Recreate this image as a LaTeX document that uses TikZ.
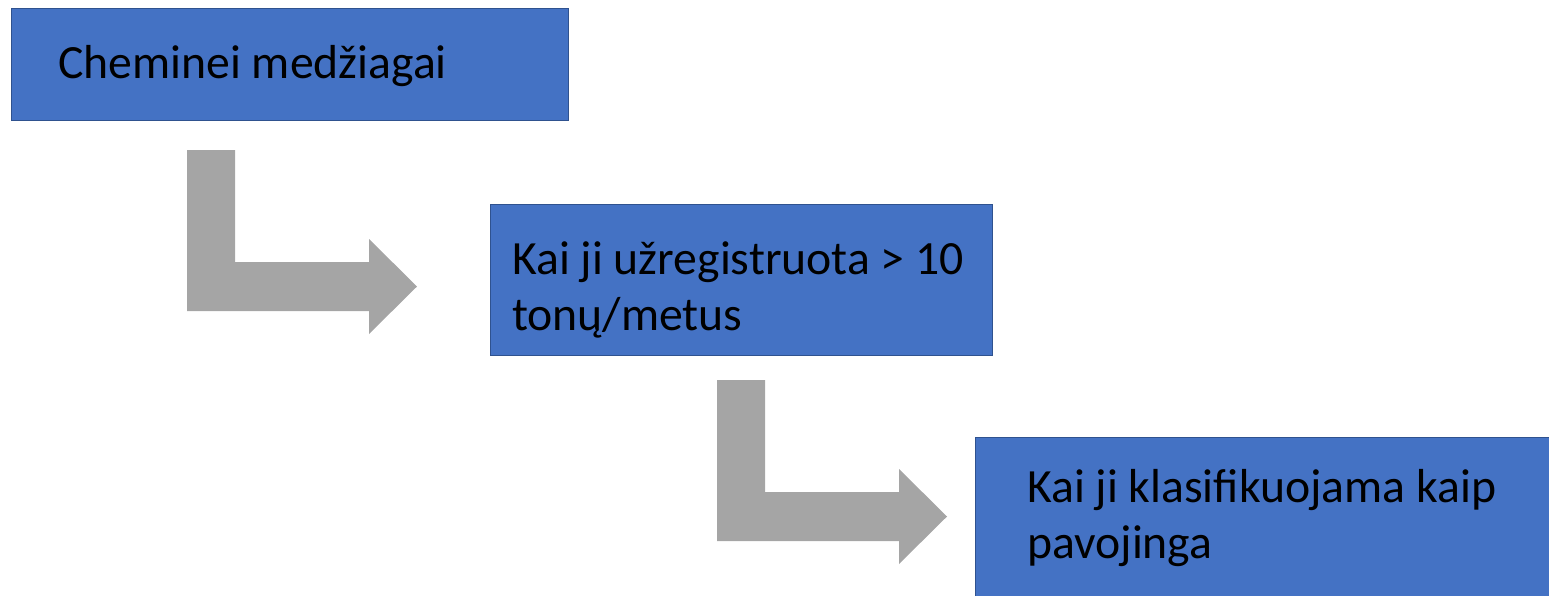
\documentclass[tikz,border=0pt]{standalone}
\usepackage{fontspec}
\setmainfont{Carlito}
\usetikzlibrary{positioning}

\definecolor{boxblue}{HTML}{4472C4}
\definecolor{boxline}{HTML}{2F528F}
\definecolor{arrowgray}{HTML}{A5A5A5}

\tikzset{
  stepbox/.style={draw=boxline,fill=boxblue,line width=1.3pt,inner sep=0pt,anchor=north west},
  steptext/.style={anchor=base west,align=left,inner sep=0pt,font=\fontsize{47.7}{56}\selectfont},
  bentarrow/.pic={\fill[arrowgray] (0,0) -- (48,0) -- (48,112) -- (182,112) -- (182,89)
    -- (230,136.5) -- (182,184) -- (182,161) -- (0,161) -- cycle;}
}

\begin{document}
\begin{tikzpicture}[x=1pt,y=-1pt]
\useasboundingbox (0,0) rectangle (1549,595);
\clip (0,0) rectangle (1549,595);
% steps
\node [stepbox,minimum width=557pt,minimum height=112pt] (box1) at (10.5,8)  {};
\node [stepbox,minimum width=502pt,minimum height=151pt] (box2) at (490,204) {};
\node [stepbox,minimum width=600pt,minimum height=200pt] (box3) at (975,437) {};
% texts (base = last line)
\node [steptext] (t1) at (58,78)    {Cheminei medžiagai};
\node [steptext] (t2) at (512,330)  {Kai ji užregistruota > 10\\tonų/metus};
\node [steptext] (t3) at (1027,558) {Kai ji klasifikuojama kaip\\pavojinga};
% bent arrows
\path (187,150) pic {bentarrow};
\path (717,380) pic {bentarrow};
\end{tikzpicture}
\end{document}
